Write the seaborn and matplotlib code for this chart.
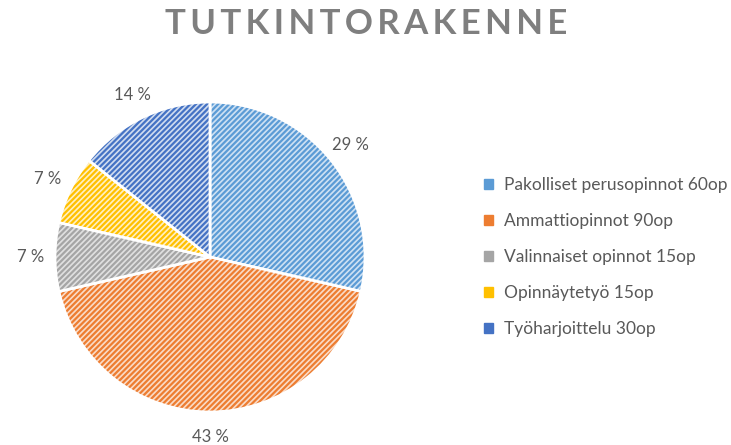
import numpy as np
import pandas as pd
import matplotlib
matplotlib.use("Agg")
import matplotlib.pyplot as plt
import seaborn as sns
from matplotlib.patches import Patch

# data
categories = ["Pakolliset perusopinnot 60op", "Ammattiopinnot 90op",
              "Valinnaiset opinnot 15op", "Opinnäytetyö 15op", "Työharjoittelu 30op"]
credits = [60, 90, 15, 15, 30]
colors = ["#5B9BD5", "#ED7D31", "#A5A5A5", "#FFC000", "#4472C4"]
title = "TUTKINTORAKENNE"

sns.set_theme(style="white")
plt.rcParams["font.family"] = ["Lato", "DejaVu Sans"]
plt.rcParams["hatch.linewidth"] = 1.6

fig = plt.figure(figsize=(7.31, 4.45), dpi=100)
ax = fig.add_axes([55 / 731, 33 / 445, 310 / 731, 310 / 445])

light = sns.color_palette([sns.set_hls_values(c, l=0.88) for c in colors])

wedges, texts, autotexts = ax.pie(
        credits,
        colors=light,
        startangle=90,
        counterclock=False,
        autopct=lambda p: f"{p:.0f} %",
        pctdistance=1.16,
        wedgeprops=dict(edgecolor="white", linewidth=2),
        textprops=dict(color="#595959", fontsize=12),
        )
for w, c in zip(wedges, colors):
    w.set_hatch("//////")
    w._hatch_color = matplotlib.colors.to_rgba(c)
ax.set_xlim(-1, 1)
ax.set_ylim(-1, 1)
ax.set_aspect("equal")

# legend
handles = [Patch(facecolor=c, edgecolor=c) for c in colors]
fig.legend(handles, categories, loc="center left",
           bbox_to_anchor=(468 / 731, 1 - 257 / 445),
           frameon=False, fontsize=12.5, labelcolor="#595959",
           handlelength=0.55, handleheight=0.55, handletextpad=0.6,
           labelspacing=1.15)

fig.text(366 / 731, 1 - 24 / 445, "\u2009".join(title), ha="center", va="center",
         fontsize=25, fontweight="bold", color="#7F7F7F")

fig.savefig("out.png", dpi=100)
